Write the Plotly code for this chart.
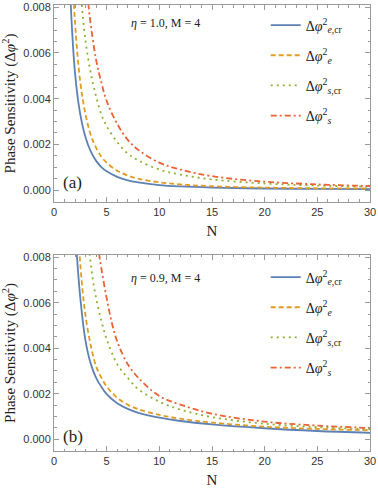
import plotly.graph_objects as go

# ---------------- data ----------------
# Panel (a): eta = 1.0, M = 4
a_blue_N = [1.3, 1.5, 2, 2.5, 3, 3.5, 4, 4.5, 5, 6, 7, 8, 10, 12, 15, 20, 25, 30]
a_blue_v = [0.0120, 0.0090, 0.0051, 0.0033, 0.0023, 0.00168, 0.00128, 0.00101, 0.00082, 0.00058,
            0.00043, 0.00034, 0.00022, 0.00016, 0.00011, 0.00007, 0.00005, 0.00004]
a_orange_N = [1.6, 2, 2.5, 3, 3.5, 4, 4.5, 5, 6, 7, 8, 10, 12, 15, 20, 25, 30]
a_orange_v = [0.0113, 0.0073, 0.0047, 0.0033, 0.0024, 0.00185, 0.00146, 0.0012, 0.00085, 0.00064,
              0.0005, 0.00034, 0.00025, 0.00017, 0.00011, 0.00008, 0.00007]
a_green_N = [2.3, 2.6, 3, 3.5, 4, 4.5, 5, 6, 7, 8, 10, 12, 15, 20, 25, 30]
a_green_v = [0.0102, 0.0083, 0.0065, 0.0051, 0.0041, 0.0033, 0.0028, 0.0021, 0.0016, 0.0013,
             0.0009, 0.00068, 0.00047, 0.00029, 0.0002, 0.00015]
a_red_N = [2.9, 3.2, 3.5, 4, 4.5, 5, 6, 7, 8, 10, 12, 15, 20, 25, 30]
a_red_v = [0.0100, 0.0084, 0.0072, 0.0057, 0.0047, 0.0039, 0.0029, 0.0022, 0.00176, 0.0012,
           0.0009, 0.00061, 0.00037, 0.00025, 0.00018]

# Panel (b): eta = 0.9, M = 4
b_blue_N = [1.8, 2, 2.2, 2.5, 3, 3.5, 4, 4.5, 5, 6, 7, 8, 10, 12, 15, 20, 25, 30]
b_blue_v = [0.0112, 0.0092, 0.0079, 0.0062, 0.0043, 0.0033, 0.0027, 0.0023, 0.00198, 0.00158,
            0.00133, 0.00116, 0.00095, 0.0008, 0.00065, 0.00048, 0.00036, 0.00028]
b_orange_N = [2.1, 2.4, 2.7, 3, 3.5, 4, 4.5, 5, 6, 7, 8, 10, 12, 15, 20, 25, 30]
b_orange_v = [0.0105, 0.0083, 0.0066, 0.0054, 0.0041, 0.0032, 0.0027, 0.00232, 0.00182, 0.00152,
              0.00132, 0.00107, 0.0009, 0.00073, 0.00055, 0.00045, 0.00039]
b_green_N = [3.0, 3.3, 3.6, 4, 4.5, 5, 6, 7, 8, 10, 12, 15, 20, 25, 30]
b_green_v = [0.0100, 0.0085, 0.0073, 0.0062, 0.0052, 0.0044, 0.0033, 0.0027, 0.0022, 0.00165,
             0.0013, 0.00097, 0.00068, 0.00053, 0.00044]
b_red_N = [3.8, 4.2, 4.5, 5, 5.5, 6, 7, 8, 10, 12, 15, 20, 25, 30]
b_red_v = [0.0100, 0.0084, 0.0075, 0.0062, 0.0051, 0.0043, 0.0033, 0.0027, 0.0019, 0.00152,
           0.00112, 0.00077, 0.0006, 0.00049]

series_names = ["Δ<i>φ</i><sup>2</sup><sub><i>e</i>,cr</sub>",
                "Δ<i>φ</i><sup>2</sup><sub><i>e</i></sub>",
                "Δ<i>φ</i><sup>2</sup><sub><i>s</i>,cr</sub>",
                "Δ<i>φ</i><sup>2</sup><sub><i>s</i></sub>"]
panel_labels = ["(a)", "(b)"]
panel_params = ["<i>η</i> = 1.0, M = 4", "<i>η</i> = 0.9, M = 4"]
x_ticks = [0, 5, 10, 15, 20, 25, 30]
y_ticks = [0.000, 0.002, 0.004, 0.006, 0.008]

colors = ["#5E81B5", "#E19C24", "#8FB032", "#EB6235"]
dashes = ["solid", "5px,3px", "2px,4px", "6px,3px,2px,3px"]

panels = [
    [(a_blue_N, a_blue_v), (a_orange_N, a_orange_v), (a_green_N, a_green_v), (a_red_N, a_red_v)],
    [(b_blue_N, b_blue_v), (b_orange_N, b_orange_v), (b_green_N, b_green_v), (b_red_N, b_red_v)],
]

SERIF = "Liberation Serif, Times New Roman, serif"
SANS = "Liberation Sans, Arial, sans-serif"

fig = go.Figure()
for p, curves in enumerate(panels):
    xa = "x" if p == 0 else "x2"
    ya = "y" if p == 0 else "y2"
    lg = "legend" if p == 0 else "legend2"
    for i, (n, v) in enumerate(curves):
        fig.add_trace(go.Scatter(
            x=n, y=v, mode="lines", name=series_names[i],
            line=dict(color=colors[i], dash=dashes[i], width=1.8, shape="spline", smoothing=1.0),
            xaxis=xa, yaxis=ya, legend=lg, legendgroup=f"p{p}s{i}",
        ))

frame = "#9a9a9a"
def xaxis_cfg(domain_anchor):
    return dict(
        range=[0, 30], tickvals=x_ticks, ticks="inside", ticklen=5, tickcolor=frame,
        minor=dict(ticks="inside", dtick=1, ticklen=2.5, tickcolor=frame, showgrid=False),
        showline=True, linecolor=frame, linewidth=1, mirror="allticks",
        showgrid=False, zeroline=False, anchor=domain_anchor, automargin=False,
        ticklabeloverflow="allow",
        tickfont=dict(family=SANS, size=11, color="#333333"),
        title=dict(text="N", font=dict(family=SERIF, size=15, color="#222222"), standoff=8),
    )

def yaxis_cfg(domain, anchor):
    return dict(
        range=[-0.00052, 0.0081], tickvals=y_ticks, tickformat=".3f", ticks="inside", ticklen=5,
        tickcolor=frame,
        minor=dict(ticks="inside", dtick=0.0005, tick0=0, ticklen=2.5, tickcolor=frame, showgrid=False),
        showline=True, linecolor=frame, linewidth=1, mirror="allticks",
        showgrid=False, zeroline=False, domain=domain, anchor=anchor, automargin=False,
        ticklabeloverflow="allow",
        tickfont=dict(family=SANS, size=11, color="#333333"),
        title=dict(text="Phase Sensitivity (Δ<i>φ</i><sup>2</sup>)",
                   font=dict(family=SERIF, size=15, color="#222222"), standoff=6),
    )

legend_common = dict(
    font=dict(family=SERIF, size=14, color="#222222"), bgcolor="rgba(0,0,0,0)",
    borderwidth=0, tracegroupgap=9, xanchor="left", yanchor="top", itemwidth=30,
)

fig.update_layout(
    width=378, height=491,
    margin=dict(l=54, r=8, t=5, b=40, autoexpand=False),
    paper_bgcolor="white", plot_bgcolor="white",
    xaxis=xaxis_cfg("y"),
    yaxis=yaxis_cfg([0.5583, 1.0], "x"),
    xaxis2=xaxis_cfg("y2"),
    yaxis2=yaxis_cfg([0.0, 0.4395], "x2"),
    legend=dict(x=0.67, y=0.99, **legend_common),
    legend2=dict(x=0.67, y=0.425, **legend_common),
    showlegend=True,
)

for p in range(2):
    xr = "x" if p == 0 else "x2"
    yr = "y" if p == 0 else "y2"
    fig.add_annotation(x=7.12, y=0.0073 if p == 0 else 0.0071, xref=xr, yref=yr,
                       text=panel_params[p], showarrow=False, xanchor="left", yanchor="middle",
                       font=dict(family=SERIF, size=12, color="#222222"))
    fig.add_annotation(x=1.8, y=0.00035 if p == 0 else 0.0001, xref=xr, yref=yr,
                       text=panel_labels[p], showarrow=False, xanchor="center", yanchor="middle",
                       font=dict(family=SERIF, size=17, color="#222222"))

fig.write_html("out.html", config={"displayModeBar": False},
               post_script="document.body.style.margin='0';document.body.style.overflow='hidden';")
